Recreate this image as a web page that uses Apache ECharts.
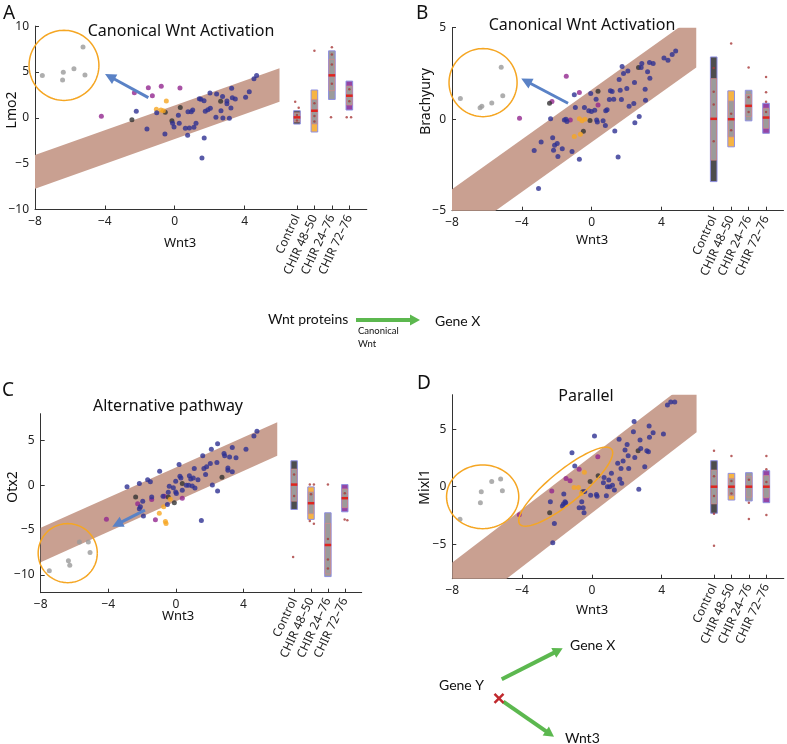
<!DOCTYPE html>
<html><head><meta charset="utf-8">
<script src="https://cdn.jsdelivr.net/npm/echarts@6.0.0/dist/echarts.min.js"></script>
<style>html,body{margin:0;padding:0;background:#fff}#c{width:787px;height:744px}</style>
</head><body><div id="c"></div>
<script>
// ---------- DATA ----------
const categories = ['Control', 'CHIR 48–50', 'CHIR 24–76', 'CHIR 72–76'];
const categoryX = [7, 8, 9, 10];
const xTicks = [-8, -4, 0, 4];
const aYTicks = [-10, -5, 0, 5, 10];
const bYTicks = [-5, 0, 5];
const cYTicks = [-10, -5, 0, 5];
const dYTicks = [-5, 0, 5];
const titles = ['Canonical Wnt Activation', 'Canonical Wnt Activation', 'Alternative pathway', 'Parallel'];
const yNames = ['Lmo2', 'Brachyury', 'Otx2', 'Mixl1'];
const xName = 'Wnt3';

// Panel A (Lmo2)
const aBlue = [[-2.20,0.71],[-1.59,-1.21],[-1.03,0.56],[-0.56,-1.77],[-0.12,-0.60],[-0.04,-1.00],[0.21,0.27],[0.26,-0.60],[0.61,-1.15],[0.76,0.67],[0.74,-1.91],[0.84,-1.11],[0.95,0.67],[1.03,0.85],[1.10,-1.04],[1.22,-0.60],[1.41,2.09],[1.50,2.01],[1.56,-4.39],[1.68,1.87],[1.69,-2.20],[1.75,0.71],[1.90,0.89],[2.04,1.03],[2.02,2.71],[2.36,0.05],[2.40,2.60],[2.65,0.78],[2.74,2.31],[2.76,-0.02],[2.99,1.83],[2.99,1.54],[3.13,-0.06],[3.22,1.07],[3.26,3.21],[3.30,2.20],[3.47,2.05],[4.06,2.23],[4.27,2.85],[4.54,4.27],[4.69,4.60]];
const aBlack = [[-2.45,-0.20],[-0.16,-0.31],[0.32,1.11],[-0.54,0.60],[2.63,1.80]];
const aPurple = [[-4.20,0.16],[-1.51,3.29],[-0.77,3.43],[0.30,3.25],[-1.28,2.41],[-2.31,2.74]];
const aOrange = [[-1.05,0.92],[-0.79,0.85],[-0.48,1.83],[-0.65,0.78]];
const aGray = [[-7.58,4.60],[-6.38,4.96],[-6.42,4.12],[-5.77,5.36],[-5.25,7.72],[-5.14,4.67]];
const aBandX = [-8, 6], aBandUpper = [-4.06, 5.4], aBandLower = [-7.73, 1.76];
// box: [x, q1, q3, notchLow, notchHigh, median]
const aBoxes = [[7,-0.68,0.77,-0.45,0.55,0.05],[8,-1.55,3.03,-0.68,2.0,0.77],[9,2.0,7.3,2.96,6.38,4.63],[10,0.85,4.0,1.39,3.47,2.41]];
const aBoxDots = [[6.9,1.76],[7.1,1.1],[7,0.3],[7,-0.3],[8,7.3],[8,1.6],[8,0.2],[8,-0.4],[9,7.7],[9,6.9],[9,5.8],[9,3.7],[8.95,0.05],[9.85,0.05],[10.1,0.05],[10,3.1],[10,1.8]];
const aEllipses = [[-6.34,5.72,2.0,0,0,3.82]];
const aArrow = [-1.51,2.2,-3.99,4.78];

// Panel B (Brachyury)
const bBlue = [[-3.04,-3.79],[-3.29,-1.71],[-2.89,-1.24],[-2.35,0.02],[-2.23,-1.02],[-2.18,-1.69],[-2.12,-1.42],[-1.97,-1.33],[-1.93,-2.04],[-1.68,-1.62],[-1.56,-0.05],[-1.47,0],[-1.41,-0.13],[-1.12,-1.77],[-0.99,1.33],[-0.93,0.64],[-0.70,-2.19],[-0.41,0.64],[-0.16,0.46],[-0.01,0.42],[-0.05,1.40],[0.18,0.49],[0.26,1.09],[0.29,-0.05],[0.33,-0.15],[0.66,-0.09],[0.79,-0.35],[0.81,0.46],[0.89,0.51],[1.02,1.07],[1.08,1.55],[1.18,1.51],[1.27,1.09],[1.33,-0.64],[1.52,-2.06],[1.58,2.17],[1.64,1.58],[1.71,1.07],[1.75,2.88],[1.83,2.50],[2.02,1.68],[2.08,2.64],[2.15,0.71],[2.42,0.86],[2.46,2.00],[2.48,-0.20],[2.73,0.15],[2.84,2.82],[2.88,3.04],[3.07,1.64],[3.09,1.04],[3.21,2.59],[3.32,3.10],[3.34,2.24],[3.53,3.04],[4.15,3.35],[4.38,3.22],[4.62,3.53],[4.82,3.73]];
const bBlack = [[-2.41,0.87],[0.37,1.53],[-0.47,-0.66],[-0.09,-0.07],[2.69,2.82]];
const bPurple = [[-4.13,0.05],[-2.27,0.97],[-1.45,2.35],[-1.22,-0.05],[-0.70,1.46],[0.37,0.77]];
const bOrange = [[-0.99,-0.95],[-0.70,0.02],[-0.55,-0.09],[-0.38,0],[-0.64,-0.82]];
const bGray = [[-7.52,1.13],[-6.39,0.62],[-6.29,0.71],[-5.72,0.89],[-5.18,2.84],[-5.09,1.28]];
const bBandX = [-8, 6], bBandUpper = [-3.83, 5.69], bBandLower = [-6.70, 2.82];
const bBoxes = [[7,-3.41,3.4,-2.24,2.22,0.02],[8,-1.51,1.55,-0.97,1.0,0],[9,-0.09,1.58,0.15,1.35,0.73],[10,-0.77,0.87,-0.5,0.6,0.09]];
const bBoxDots = [[8,4.13],[9,2.82],[10,2.31],[10,1.47],[10,0.96],[7,2.8],[7,1.5],[7,0.8],[7,-1.2],[8,0.3],[8,-0.6],[9,1.2],[9,0.4],[10,0.4]];
const bEllipses = [[-6.22,2.0,1.95,0,0,1.86]];
const bArrow = [-1.35,0.87,-4.03,2.22];

// Panel C (Otx2)
const cBlue = [[-2.89,-0.15],[-2.16,0.19],[-1.67,0.63],[-1.51,0.41],[-2.16,-2.63],[-2.10,-2.41],[-1.96,-1.78],[-1.92,-3.44],[-1.43,-1.30],[-0.96,1.56],[-0.76,-1.22],[-0.45,-0.78],[-0.50,-2.15],[-0.39,-0.11],[-0.15,-0.26],[-0.01,-0.74],[0.03,-0.93],[-0.01,0.44],[0.19,2.33],[0.24,1.0],[0.30,0.81],[0.38,-0.56],[0.62,0],[0.76,0],[0.80,1.07],[0.88,0.70],[0.97,-0.07],[1.03,0.81],[1.09,1.89],[1.13,-0.30],[1.31,0.63],[1.51,-3.93],[1.59,3.30],[1.66,1.89],[1.76,1.22],[1.82,2.07],[2.04,2.44],[2.10,4.04],[2.16,0.04],[2.43,2.56],[2.47,4.63],[2.47,-0.63],[2.85,3.56],[2.89,3.30],[3.08,1.93],[3.08,1.67],[3.18,3.15],[3.34,4.22],[3.34,1.52],[3.56,3.07],[4.15,4.04],[4.62,5.52],[4.80,6.04]];
const cBlack = [[-2.38,-1.30],[-0.45,-1.30],[-0.09,-1.96],[0.38,0.19],[2.73,0.89]];
const cPurple = [[-4.11,-3.78],[-2.26,-2.07],[-1.43,-1.59],[-1.21,-3.85],[-0.68,-1.22],[0.38,-1.44]];
const cOrange = [[-0.98,-3.11],[-0.72,-2.41],[-0.62,-4.04],[-0.58,-4.26],[-0.33,-1.56]];
const cGray = [[-7.49,-9.56],[-6.36,-8.44],[-6.28,-8.93],[-5.71,-6.33],[-5.18,-6.33],[-5.08,-7.52]];
const cBandX = [-8, 6], cBandUpper = [-4.73, 7.04], cBandLower = [-8.6, 3.3];
const cBoxes = [[7,-2.7,2.74,-1.78,1.82,0.08],[8,-3.81,-0.18,-3.18,-0.74,-2.0],[9,-10.2,-3.07,-9.9,-4.26,-6.67],[10,-2.96,0.08,-2.51,-0.4,-1.44]];
const cBoxDots = [[6.94,-8.0],[7,1.2],[7,-1.2],[7.93,0.08],[8.17,0.08],[7.93,-4.0],[8.17,-4.3],[8,-1.0],[9,0.08],[9,-6.0],[9,-8.3],[9,-9.3],[9.99,-3.81],[10.15,-3.9],[10,-0.9]];
const cEllipses = [[-6.40,-7.58,1.75,0,0,3.3]];
const cArrow = [-1.83,-2.78,-3.76,-4.63];

// Panel D (Mixl1)
const dBlue = [[-2.38,-1.30],[-2.24,-4.87],[-2.15,-3.19],[-1.69,-1.68],[-1.63,-1.51],[-1.61,-0.64],[-1.54,-1.30],[-1.50,-1.39],[-1.14,2.96],[-0.98,1.80],[-0.73,-1.83],[-0.50,-1.83],[-0.58,-1.30],[-0.45,-2.26],[-0.41,-0.41],[-0.07,-0.75],[0.15,4.41],[0.26,-0.67],[0.30,-0.84],[0.66,0.35],[0.70,0.81],[0.83,-0.78],[0.89,0],[0.97,0.58],[1.02,0],[1.18,0.12],[1.12,1.16],[1.29,-0.29],[1.48,2.03],[1.56,4.12],[1.60,0.67],[1.67,1.59],[1.71,0.29],[1.79,2.23],[1.90,3.19],[2.02,3.68],[2.08,2.70],[2.11,1.59],[2.38,4.78],[2.42,5.68],[2.46,2.55],[2.69,-0.23],[2.76,4.06],[2.80,3.33],[3.03,1.74],[3.15,3.13],[3.24,3.04],[3.28,5.28],[3.30,4.29],[3.51,4.70],[4.10,4.58],[4.33,7.10],[4.52,7.36],[4.75,7.36]];
const dBlack = [[-2.42,-2.26],[-0.10,0.46],[0.36,0.96],[-0.52,-0.43],[2.65,3.13]];
const dPurple = [[-4.16,-2.43],[-2.30,-0.38],[-1.48,0.72],[-1.25,0.52],[-0.73,1.51],[0.34,2.61]];
const dOrange = [[-1.02,-0.06],[-0.77,-0.06],[-0.60,-0.58],[-0.43,1.25]];
const dGray = [[-7.56,-2.84],[-6.39,-1.39],[-6.34,-0.43],[-5.74,0.46],[-5.23,0.67],[-5.13,-0.35]];
const dBandX = [-8, 6], dBandUpper = [-6.6, 9.64], dBandLower = [-11.65, 4.73];
const dBoxes = [[7,-2.31,2.26,-1.5,1.45,0],[8,-1.16,1.16,-0.78,0.73,0],[9,-1.24,1.22,-0.9,0.9,0],[10,-1.39,1.39,-0.97,0.97,0]];
const dBoxDots = [[7,3.13],[7,-5.13],[7,-2.35],[7,0.9],[7,-0.8],[8,2.67],[8,0.5],[8,-0.6],[9,-1.39],[9,-2.81],[9,0.6],[10,2.67],[10,1.51],[10,-2.46],[10,0.4]];
const dEllipses = [[-6.26,-0.88,2.07,0,0,2.77],[-1.50,0,2.63,3.26,0.58,-1.08]];

// ---------- STYLE ----------
const FONT = 'Noto Sans';
const C_BLUE = '#2e3192', C_BLACK = '#333333', C_PURPLE = '#92278f', C_ORANGE = '#f6a623', C_GRAY = '#9a9a9a';
const BAND = '#c9a091', ARROW = '#5a82c6', CIRCLE = '#f5a623', GREEN = '#5cb84f';
const boxFill = ['#4d4d4d', '#f6b444', '#9b9b9b', '#9445a5'];

const panels = [
  {grid:{left:35, top:26.1, width:331.8, height:183.4}, ymin:-10, ymax:10, yt:aYTicks, blue:aBlue, black:aBlack, purple:aPurple, orange:aOrange, gray:aGray, bx:aBandX, bu:aBandUpper, bl:aBandLower, boxes:aBoxes, dots:aBoxDots, ell:aEllipses, arrow:aArrow},
  {grid:{left:452, top:27.7, width:331.5, height:183}, ymin:-5, ymax:5, yt:bYTicks, blue:bBlue, black:bBlack, purple:bPurple, orange:bOrange, gray:bGray, bx:bBandX, bu:bBandUpper, bl:bBandLower, boxes:bBoxes, dots:bBoxDots, ell:bEllipses, arrow:bArrow},
  {grid:{left:40.7, top:413.7, width:321, height:179}, ymin:-12, ymax:8, yt:cYTicks, blue:cBlue, black:cBlack, purple:cPurple, orange:cOrange, gray:cGray, bx:cBandX, bu:cBandUpper, bl:cBandLower, boxes:cBoxes, dots:cBoxDots, ell:cEllipses, arrow:cArrow},
  {grid:{left:452.3, top:394.7, width:331.5, height:184}, ymin:-8, ymax:8, yt:dYTicks, blue:dBlue, black:dBlack, purple:dPurple, orange:dOrange, gray:dGray, bx:dBandX, bu:dBandUpper, bl:dBandLower, boxes:dBoxes, dots:dBoxDots, ell:dEllipses, arrow:null}
];

const axisLineStyle = {show:true, onZero:false, lineStyle:{color:'#333', width:1}};
const grid = [], xAxis = [], yAxis = [], series = [];

panels.forEach((p, i) => {
  grid.push(Object.assign({containLabel:false}, p.grid));
  xAxis.push({type:'value', gridIndex:i, min:-8, max:11, position:'bottom',
    axisLine:axisLineStyle, splitLine:{show:false},
    axisTick:{show:true, inside:true, length:4, customValues:xTicks, lineStyle:{color:'#333'}},
    axisLabel:{customValues:xTicks, color:'#222', fontSize:12, fontFamily:FONT, margin:6,
      formatter:v => (v < 0 ? '\u2212' + Math.abs(v) : String(v))}});
  xAxis.push({type:'value', gridIndex:i, min:-8, max:11, position:'bottom',
    axisLine:{show:false, onZero:false}, splitLine:{show:false},
    axisTick:{show:true, inside:true, length:4, customValues:categoryX, lineStyle:{color:'#333'}},
    axisLabel:{customValues:categoryX, rotate:65, color:'#222', fontSize:12, fontFamily:FONT, margin:6,
      formatter:v => categories[categoryX.indexOf(Math.round(v))] || ''}});
  yAxis.push({type:'value', gridIndex:i, min:p.ymin, max:p.ymax,
    axisLine:axisLineStyle, splitLine:{show:false},
    axisTick:{show:true, inside:true, length:4, customValues:p.yt, lineStyle:{color:'#333'}},
    axisLabel:{customValues:p.yt, color:'#222', fontSize:12, fontFamily:FONT, margin:6,
      formatter:v => (v < 0 ? '\u2212' + Math.abs(v) : String(v))}});

  const xi = i * 2;
  // band
  series.push({type:'custom', xAxisIndex:xi, yAxisIndex:i, clip:true, silent:true, z:1,
    data:[[p.bx[0], p.bu[0]]],
    renderItem:(params, api) => ({type:'polygon', shape:{points:[
      api.coord([p.bx[0], p.bu[0]]), api.coord([p.bx[1], p.bu[1]]),
      api.coord([p.bx[1], p.bl[1]]), api.coord([p.bx[0], p.bl[0]])]},
      style:{fill:BAND}})});
  // scatter groups
  [[p.gray, C_GRAY], [p.purple, C_PURPLE], [p.black, C_BLACK], [p.orange, C_ORANGE], [p.blue, C_BLUE]].forEach(([d, col]) => {
    series.push({type:'scatter', xAxisIndex:xi, yAxisIndex:i, data:d, symbolSize:5, z:3, silent:true,
      itemStyle:{color:col}});
  });
  // boxes
  series.push({type:'custom', xAxisIndex:xi, yAxisIndex:i, z:4, silent:true, data:p.boxes,
    renderItem:(params, api) => {
      const x = api.value(0), q1 = api.value(1), q3 = api.value(2), nl = api.value(3), nh = api.value(4), med = api.value(5);
      const w = api.size([0.38, 0])[0];
      const t = api.coord([x, q3]), b = api.coord([x, q1]), nt = api.coord([x, nh]), nb = api.coord([x, nl]), m = api.coord([x, med]);
      return {type:'group', children:[
        {type:'rect', shape:{x:t[0]-w/2, y:t[1], width:w, height:b[1]-t[1]}, style:{fill:boxFill[params.dataIndex], stroke:'#8f8fe0', lineWidth:1}},
        {type:'rect', shape:{x:t[0]-w/2+0.5, y:nt[1], width:w-1, height:nb[1]-nt[1]}, style:{fill:'#9b9b9b', stroke:'#e08585', lineWidth:0.6}},
        {type:'line', shape:{x1:m[0]-w/2, y1:m[1], x2:m[0]+w/2, y2:m[1]}, style:{stroke:'#e0241f', lineWidth:2.5}}
      ]};
    }});
  series.push({type:'scatter', xAxisIndex:xi, yAxisIndex:i, data:p.dots, symbolSize:2.5, z:5, silent:true,
    itemStyle:{color:'#a83a3a'}});
  // ellipses / circles
  series.push({type:'custom', xAxisIndex:xi, yAxisIndex:i, z:6, silent:true, data:p.ell,
    renderItem:(params, api) => {
      const e = p.ell[params.dataIndex];
      const pts = [];
      for (let k = 0; k <= 96; k++) {
        const a = k / 96 * Math.PI * 2;
        pts.push(api.coord([e[0] + Math.cos(a) * e[2] + Math.sin(a) * e[4], e[1] + Math.cos(a) * e[3] + Math.sin(a) * e[5]]));
      }
      return {type:'polyline', shape:{points:pts}, style:{stroke:CIRCLE, lineWidth:1.5, fill:null}};
    }});
  // arrow
  if (p.arrow) {
    const ar = p.arrow;
    series.push({type:'custom', xAxisIndex:xi, yAxisIndex:i, z:6, silent:true, data:[[ar[0], ar[1]]],
      renderItem:(params, api) => {
        const p0 = api.coord([ar[0], ar[1]]), p1 = api.coord([ar[2], ar[3]]);
        const dx = p1[0]-p0[0], dy = p1[1]-p0[1], L = Math.hypot(dx, dy), ux = dx/L, uy = dy/L;
        const hl = 11, hw = 5.5;
        const bx = p1[0]-ux*hl, by = p1[1]-uy*hl;
        return {type:'group', children:[
          {type:'line', shape:{x1:p0[0], y1:p0[1], x2:bx+ux, y2:by+uy}, style:{stroke:ARROW, lineWidth:3}},
          {type:'polygon', shape:{points:[p1, [bx-uy*hw, by+ux*hw], [bx+uy*hw, by-ux*hw]]}, style:{fill:ARROW}}
        ]};
      }});
  }
});

// ---------- ANNOTATION TEXT / DIAGRAMS ----------
function txt(x, y, s, size, opts) {
  return Object.assign({type:'text', x:x, y:y, style:{text:s, font:`${size}px "${FONT}"`, fill:'#111', align:'center', verticalAlign:'middle'}}, opts || {});
}
function rtxt(x, y, s, size) {
  return {type:'text', x:x, y:y, rotation:Math.PI/2, style:{text:s, font:`${size}px "${FONT}"`, fill:'#111', align:'center', verticalAlign:'middle'}};
}
function garrow(x1, y1, x2, y2) {
  const dx = x2-x1, dy = y2-y1, L = Math.hypot(dx, dy), ux = dx/L, uy = dy/L, hl = 10, hw = 5.5;
  const bx = x2-ux*hl, by = y2-uy*hl;
  return [
    {type:'line', shape:{x1:x1, y1:y1, x2:bx+ux, y2:by+uy}, style:{stroke:GREEN, lineWidth:4}},
    {type:'polygon', shape:{points:[[x2, y2], [bx-uy*hw, by+ux*hw], [bx+uy*hw, by-ux*hw]]}, style:{fill:GREEN}}
  ];
}
const DF = 'Lato';
function dtxt(x, y, s, size, align) {
  return {type:'text', x:x, y:y, style:{text:s, font:`${size}px "${DF}"`, fill:'#111', align:align || 'left', verticalAlign:'middle'}};
}
const graphic = [
  {type:'text', x:3, y:14, style:{text:'A', font:`19px "${FONT}"`, fill:'#111', verticalAlign:'middle'}},
  {type:'text', x:416, y:14, style:{text:'B', font:`19px "${FONT}"`, fill:'#111', verticalAlign:'middle'}},
  {type:'text', x:2, y:391, style:{text:'C', font:`19px "${FONT}"`, fill:'#111', verticalAlign:'middle'}},
  {type:'text', x:417, y:384, style:{text:'D', font:`19px "${FONT}"`, fill:'#111', verticalAlign:'middle'}},
  txt(181, 31, titles[0], 16), txt(582, 25, titles[1], 16), txt(168, 406, titles[2], 16), txt(586, 396, titles[3], 16),
  rtxt(12, 110, yNames[0], 14), rtxt(426, 101.5, yNames[1], 14), rtxt(13, 487, yNames[2], 14), rtxt(425, 487, yNames[3], 14),
  txt(180, 243, xName, 13), txt(592, 240, xName, 13), txt(178, 616, xName, 13), txt(592, 610, xName, 13),
  dtxt(268, 319, 'Wnt proteins', 14),
  ...garrow(356, 320, 420, 320),
  dtxt(358, 331, 'Canonical', 9.5),
  dtxt(358, 344, 'Wnt', 9.5),
  dtxt(435, 321, 'Gene X', 14),
  dtxt(439, 685, 'Gene Y', 14),
  ...garrow(501.7, 679.3, 562.7, 648.3),
  dtxt(570, 645, 'Gene X', 14),
  ...garrow(503.3, 701.7, 554, 736.7),
  dtxt(565, 738, 'Wnt3', 14),
  {type:'line', shape:{x1:494.5, y1:693.8, x2:503.5, y2:702.8}, style:{stroke:'#c0282d', lineWidth:2.5}},
  {type:'line', shape:{x1:494.5, y1:702.8, x2:503.5, y2:693.8}, style:{stroke:'#c0282d', lineWidth:2.5}}
];

const chart = echarts.init(document.getElementById('c'), null, {renderer:'canvas'});
chart.setOption({animation:false, backgroundColor:'#fff', grid, xAxis, yAxis, series, graphic});
</script></body></html>
